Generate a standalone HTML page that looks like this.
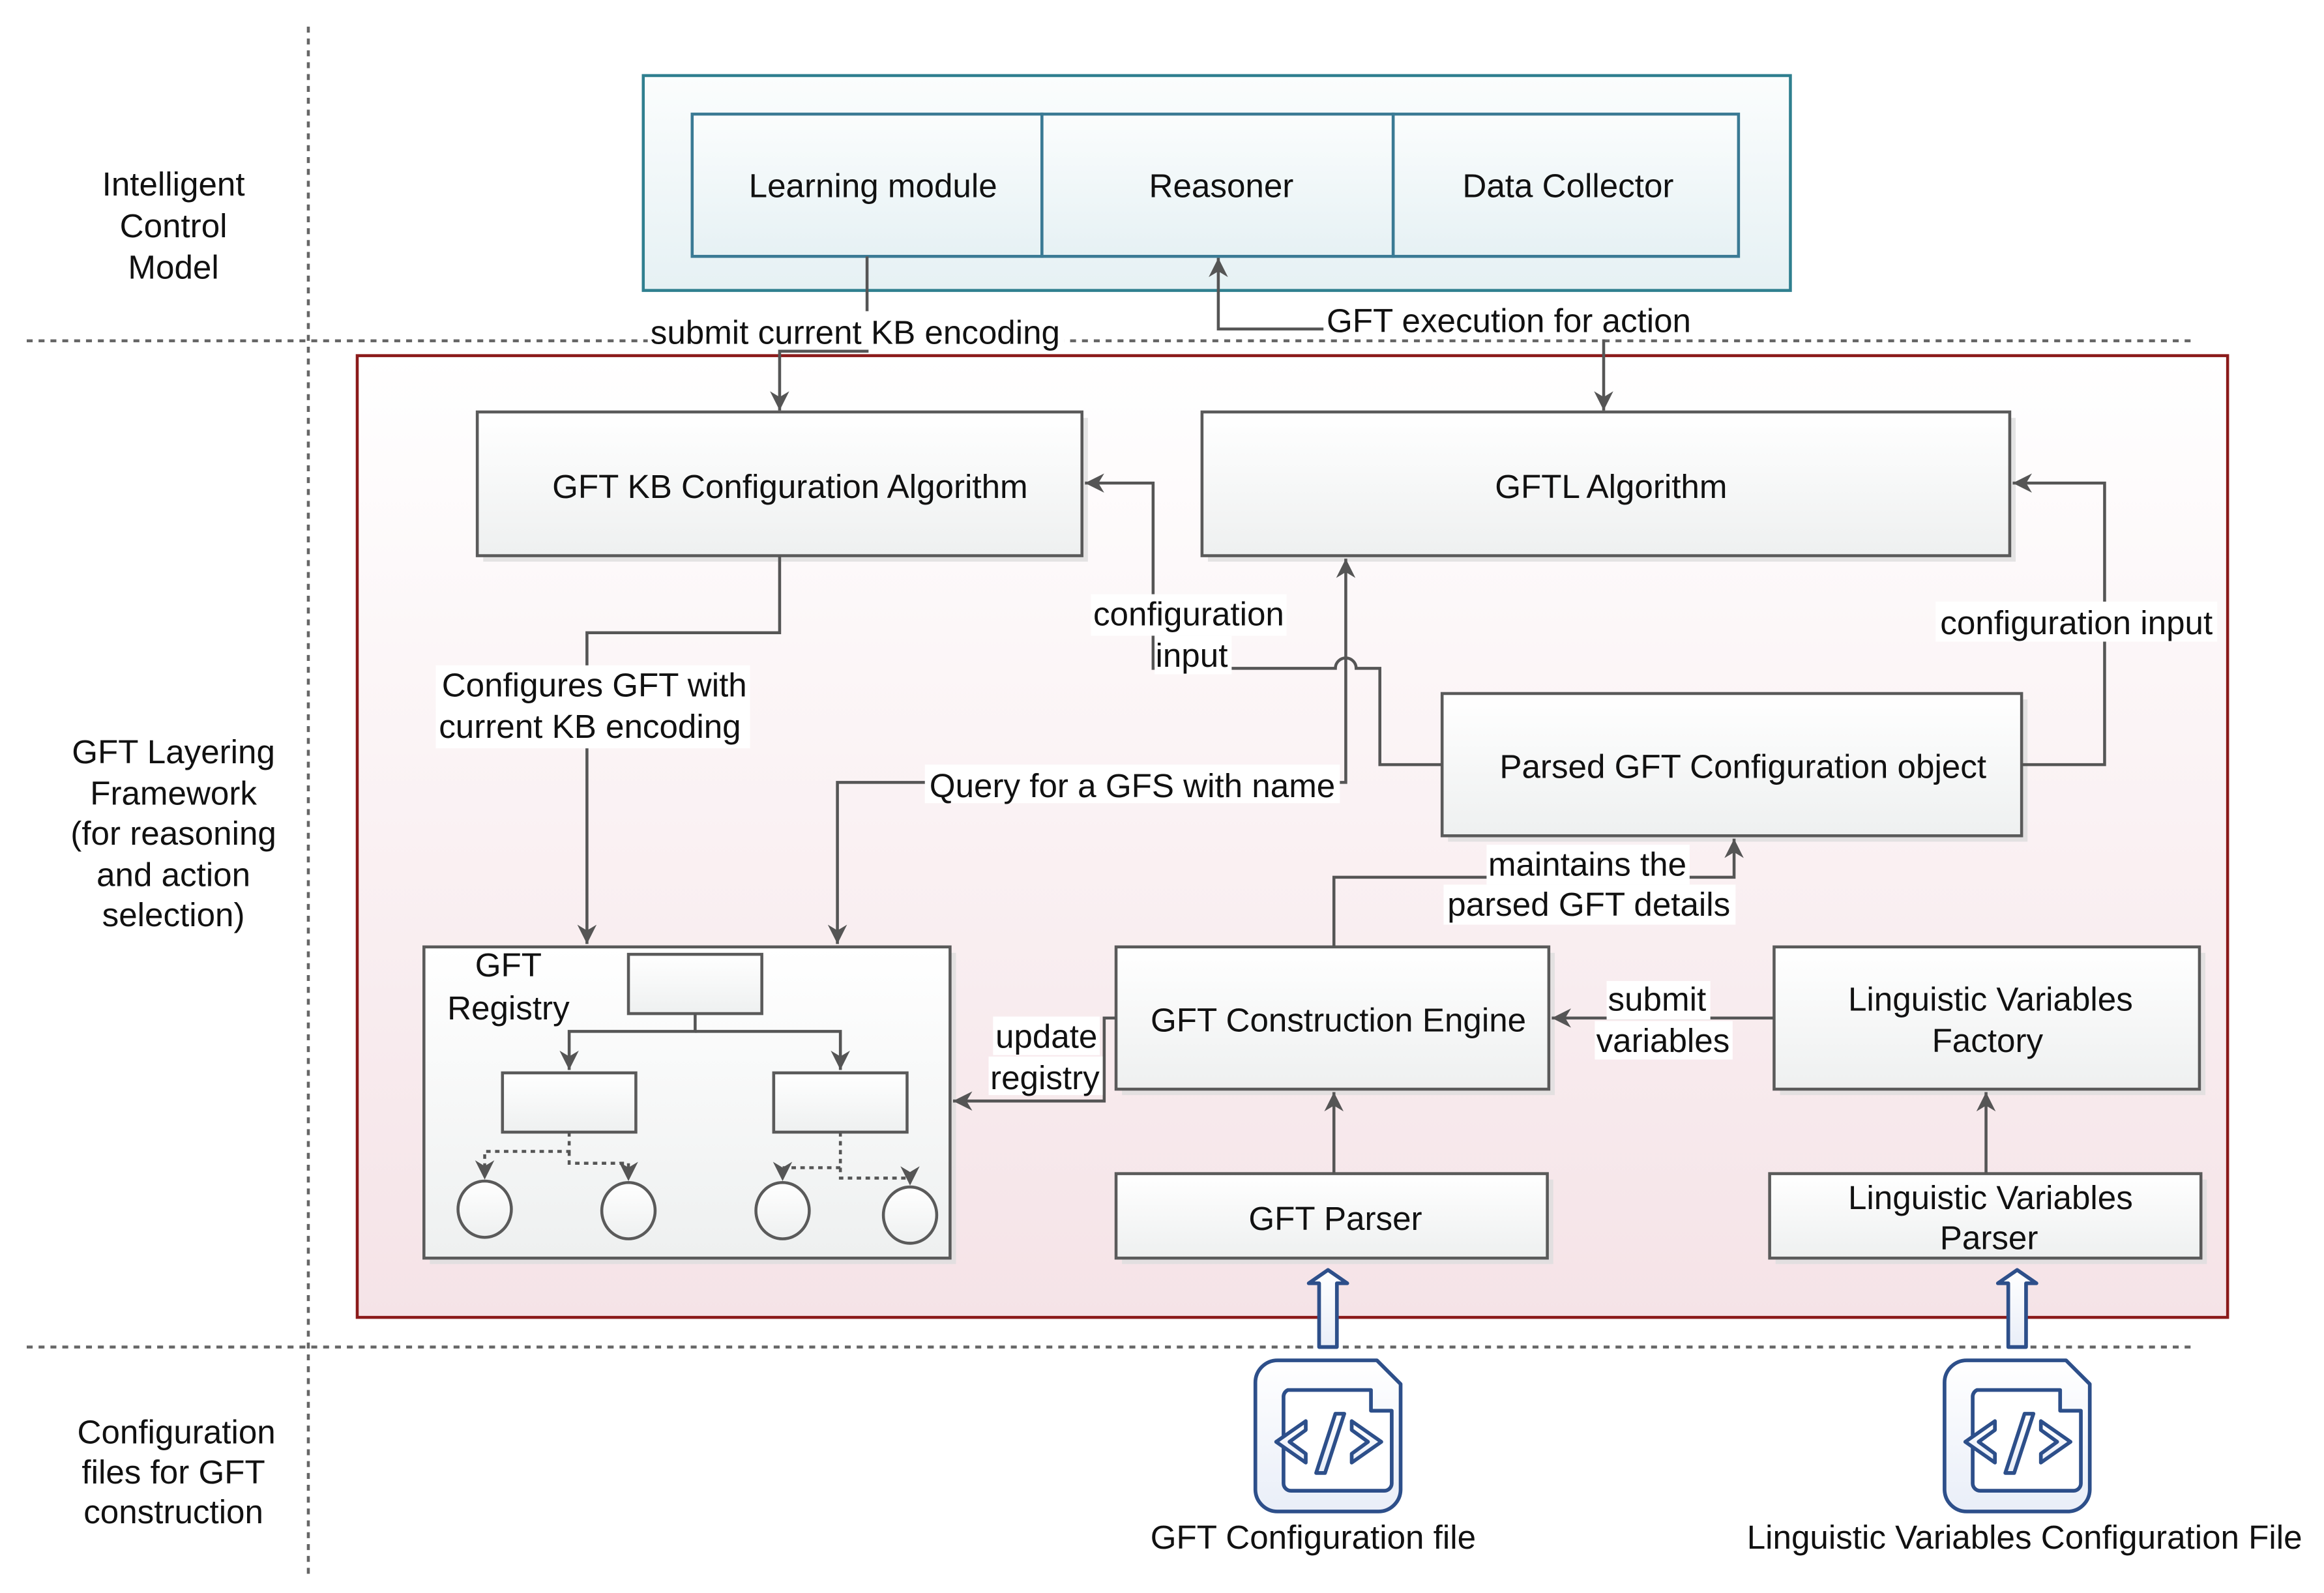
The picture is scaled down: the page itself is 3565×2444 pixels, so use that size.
<!DOCTYPE html>
<html><head><meta charset="utf-8"><style>html,body{margin:0;padding:0;background:#fff}svg{display:block}</style></head><body>
<svg width="3565" height="2444" viewBox="0 0 1568 1075" xmlns="http://www.w3.org/2000/svg" font-family="Liberation Sans, sans-serif" font-size="22.5" fill="#111">
<defs>
<linearGradient id="gb" x1="0" y1="0" x2="0" y2="1"><stop offset="0" stop-color="#fff"/><stop offset="1" stop-color="#eef0f0"/></linearGradient>
<linearGradient id="gt" x1="0" y1="0" x2="0" y2="1"><stop offset="0" stop-color="#fbfdfd"/><stop offset="1" stop-color="#e6f1f4"/></linearGradient>
<linearGradient id="gr" x1="0" y1="0" x2="0" y2="1"><stop offset="0" stop-color="#fff"/><stop offset="1" stop-color="#f5e3e7"/></linearGradient>
<linearGradient id="gi" x1="0" y1="0" x2="0" y2="1"><stop offset="0" stop-color="#fff"/><stop offset="1" stop-color="#e9eef8"/></linearGradient>
<marker id="a" viewBox="0 0 10 10" refX="10" refY="5" markerWidth="6.5" markerHeight="6.5" orient="auto-start-reverse"><path d="M0,0 L10,5 L0,10 L3,5 z" fill="#555"/></marker>
</defs>
<g stroke="#666" stroke-width="2" stroke-dasharray="4,4" fill="none">
<line x1="208" y1="18" x2="208" y2="1062"/>
<line x1="18" y1="230" x2="1480" y2="230"/>
<line x1="18" y1="909" x2="1480" y2="909"/>
</g>
<g text-anchor="middle">
<text x="117" y="132">Intelligent</text><text x="117" y="160">Control</text><text x="117" y="188">Model</text>
<text x="117" y="515">GFT Layering</text><text x="117" y="543">Framework</text><text x="117" y="570">(for reasoning</text><text x="117" y="598">and action</text><text x="117" y="625">selection)</text>
<text x="119" y="974">Configuration</text><text x="117" y="1001">files for GFT</text><text x="117" y="1028">construction</text>
</g>
<rect x="434" y="51" width="774" height="145" fill="url(#gt)" stroke="#2f7f8f" stroke-width="2"/>
<g fill="url(#gt)" stroke="#3a7a94" stroke-width="2">
<rect x="467" y="77" width="236" height="96"/><rect x="703" y="77" width="237" height="96"/><rect x="940" y="77" width="233" height="96"/>
</g>
<g text-anchor="middle"><text x="589" y="133">Learning module</text><text x="824" y="133">Reasoner</text><text x="1058" y="133">Data Collector</text></g>
<rect x="241" y="240" width="1262" height="649" fill="url(#gr)" stroke="#8b1a1a" stroke-width="2"/>
<g fill="#ddd" opacity="0.8">
<rect x="326" y="282" width="408" height="97"/><rect x="815" y="282" width="545" height="97"/><rect x="977" y="472" width="391" height="96"/>
<rect x="290" y="643" width="355" height="210"/><rect x="757" y="643" width="292" height="96"/><rect x="1201" y="643" width="287" height="96"/>
<rect x="757" y="796" width="291" height="57"/><rect x="1198" y="796" width="291" height="57"/>
</g>
<g fill="url(#gb)" stroke="#5a5a5a" stroke-width="2">
<rect x="322" y="278" width="408" height="97"/><rect x="811" y="278" width="545" height="97"/><rect x="973" y="468" width="391" height="96"/>
<rect x="286" y="639" width="355" height="210"/><rect x="753" y="639" width="292" height="96"/><rect x="1197" y="639" width="287" height="96"/>
<rect x="753" y="792" width="291" height="57"/><rect x="1194" y="792" width="291" height="57"/>
</g>
<g text-anchor="middle">
<text x="533" y="336">GFT KB Configuration Algorithm</text>
<text x="1087" y="336">GFTL Algorithm</text>
<text x="1176" y="525">Parsed GFT Configuration object</text>
<text x="903" y="696">GFT Construction Engine</text>
<text x="1343" y="682">Linguistic Variables</text><text x="1341" y="710">Factory</text>
<text x="901" y="830">GFT Parser</text>
<text x="1343" y="816">Linguistic Variables</text><text x="1342" y="843">Parser</text>
<text x="343" y="659">GFT</text><text x="343" y="688">Registry</text>
</g>
<g fill="url(#gb)" stroke="#5a5a5a" stroke-width="2">
<rect x="424" y="644" width="90" height="40"/><rect x="339" y="724" width="90" height="40"/><rect x="522" y="724" width="90" height="40"/>
<ellipse cx="327" cy="816" rx="18" ry="19"/><ellipse cx="424" cy="817" rx="18" ry="19"/><ellipse cx="528" cy="817" rx="18" ry="19"/><ellipse cx="614" cy="820" rx="18" ry="19"/>
</g>
<g stroke="#555" stroke-width="2" fill="none">
<path d="M469,684 V696 H384 V722" marker-end="url(#a)"/><path d="M469,696 H567 V722" marker-end="url(#a)"/>
<g stroke-dasharray="3,3">
<path d="M384,764 V777 H327 V796" marker-end="url(#a)"/><path d="M384,777 V785 H424 V797" marker-end="url(#a)"/>
<path d="M567,764 V788 H528 V797" marker-end="url(#a)"/><path d="M567,788 V795 H614 V800" marker-end="url(#a)"/>
</g>
</g>
<g stroke="#555" stroke-width="2" fill="none">
<path d="M585,173 V237 H526 V277" marker-end="url(#a)"/>
<path d="M893,222 H822 V174" marker-end="url(#a)"/>
<path d="M1082,226 V277" marker-end="url(#a)"/>
<path d="M526,375 V427 H396 V637" marker-end="url(#a)"/>
<path d="M973,516 H931 V451 H915 A7,7 0 0 0 901,451 H778 V326 H732" marker-end="url(#a)"/>
<path d="M565,637 V528 H908 V377" marker-start="url(#a)" marker-end="url(#a)"/>
<path d="M1364,516 H1420 V326 H1358" marker-end="url(#a)"/>
<path d="M900,639 V592 H1170 V566" marker-end="url(#a)"/>
<path d="M1197,687 H1047" marker-end="url(#a)"/>
<path d="M753,687 H745 V743 H643" marker-end="url(#a)"/>
<path d="M900,792 V737" marker-end="url(#a)"/>
<path d="M1340,792 V737" marker-end="url(#a)"/>
</g>
<g fill="#fff">
<rect x="437" y="210" width="281" height="26"/><rect x="893" y="203" width="250" height="26"/>
<rect x="294" y="449" width="212" height="56"/><rect x="736" y="401" width="132" height="28"/><rect x="779" y="429" width="52" height="26"/>
<rect x="624" y="516" width="280" height="26"/><rect x="1306" y="406" width="190" height="27"/>
<rect x="1003" y="570" width="137" height="27"/><rect x="974" y="597" width="197" height="27"/>
<rect x="1084" y="662" width="70" height="26"/><rect x="1076" y="689" width="93" height="26"/>
<rect x="670" y="686" width="72" height="26"/><rect x="667" y="713" width="77" height="26"/>
</g>
<g text-anchor="middle">
<text x="577" y="232">submit current KB encoding</text>
<text x="1018" y="224">GFT execution for action</text>
<text x="401" y="470">Configures GFT with</text><text x="398" y="498">current KB encoding</text>
<text x="802" y="422">configuration</text><text x="804" y="450">input</text>
<text x="764" y="538">Query for a GFS with name</text>
<text x="1401" y="428">configuration input</text>
<text x="1071" y="591">maintains the</text><text x="1072" y="618">parsed GFT details</text>
<text x="1118" y="682">submit</text><text x="1122" y="710">variables</text>
<text x="706" y="707">update</text><text x="705" y="735">registry</text>
</g>
<g fill="url(#gi)" stroke="#2d4f8a" stroke-width="2.5" stroke-linejoin="round">
<path d="M890,909 V866 H883 L896,857 L909,866 H902 V909 Z"/>
<path d="M1355,909 V866 H1348 L1361,857 L1374,866 H1367 V909 Z"/>
</g>
<g id="ic" fill="url(#gi)" stroke="#2d4f8a" stroke-width="2.5" stroke-linejoin="round">
<path d="M862,918 H929 L945,934 V1005 A15,15 0 0 1 930,1020 H862 A15,15 0 0 1 847,1005 V933 A15,15 0 0 1 862,918 Z"/>
<path d="M869,938 H925 V952 H939 V1001 A5,5 0 0 1 934,1006 H871 A5,5 0 0 1 866,1001 V943 A5,5 0 0 1 869,938 Z" fill="#fff"/>
<path d="M881,959 L861,973 L881,987 V981 L870,973 L881,965 Z"/>
<path d="M912,959 L932,973 L912,987 V981 L923,973 L912,965 Z"/>
<path d="M901,954 H907 L894,994 H888 Z"/>
</g>
<use href="#ic" transform="translate(465,0)"/>
<g text-anchor="middle"><text x="886" y="1045">GFT Configuration file</text><text x="1366" y="1045">Linguistic Variables Configuration File</text></g>
</svg>
</body></html>
